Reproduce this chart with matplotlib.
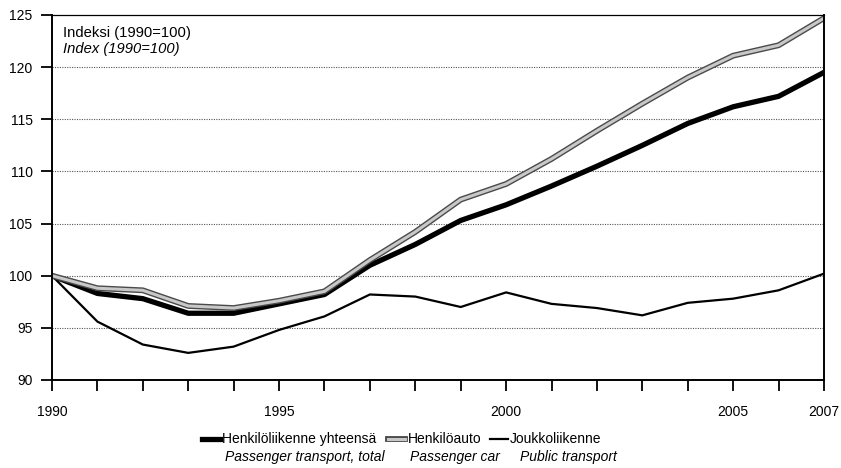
import matplotlib
matplotlib.use("Agg")
import matplotlib.pyplot as plt
import matplotlib.patheffects as pe

plt.rcParams['font.family'] = ['Liberation Sans', 'DejaVu Sans']

years = list(range(1990, 2008))
total = [100, 98.3, 97.8, 96.4, 96.4, 97.3, 98.2, 101.0, 103.0, 105.3,
         106.8, 108.6, 110.5, 112.5, 114.6, 116.2, 117.2, 119.5]
car = [100, 98.8, 98.6, 97.1, 96.9, 97.6, 98.5, 101.5, 104.2, 107.3,
       108.8, 111.2, 113.9, 116.5, 119.0, 121.1, 122.1, 124.7]
public = [100, 95.6, 93.4, 92.6, 93.2, 94.8, 96.1, 98.2, 98.0, 97.0,
          98.4, 97.3, 96.9, 96.2, 97.4, 97.8, 98.6, 100.2]
xlabels = {1990: '1990', 1995: '1995', 2000: '2000', 2005: '2005', 2007: '2007'}
yticks = [90, 95, 100, 105, 110, 115, 120, 125]
fi_labels = ['Henkilöliikenne yhteensä', 'Henkilöauto', 'Joukkoliikenne']
en_labels = ['Passenger transport, total', 'Passenger car', 'Public transport']

W, H = 841, 468
fig = plt.figure(figsize=(W / 100, H / 100), dpi=100)
ax = fig.add_axes([52 / W, 1 - 380 / H, (824 - 52) / W, (380 - 15) / H])

car_fx = [pe.Stroke(linewidth=4.2, foreground='#4a4a4a'), pe.Normal()]
styles = [dict(color='black', lw=3.8),
          dict(color='#c8c8c8', lw=2.2, path_effects=car_fx),
          dict(color='black', lw=1.6)]

ax.plot(years, public, **styles[2])
ax.plot(years, total, **styles[0])
ax.plot(years, car, **styles[1])

ax.set_xlim(1990, 2007)
ax.set_ylim(90, 125)
ax.set_xticks(years)
ax.set_xticklabels([xlabels.get(y, '') for y in years])
ax.set_yticks(yticks)
ax.tick_params(axis='both', labelsize=10, width=1.3, length=8, direction='out')
ax.tick_params(axis='x', pad=10)
ax.tick_params(axis='y', pad=6)
for y in yticks[1:-1]:
    ax.axhline(y, color='#555555', lw=0.8, ls=(0, (1, 1.2)), zorder=0)
for s in ['left', 'bottom', 'right']:
    ax.spines[s].set_linewidth(1.4)
ax.spines['top'].set_linewidth(0.9)

ax.text(0.0145, 0.95, 'Indeksi (1990=100)', transform=ax.transAxes,
        fontsize=10.6, va='center', ha='left')
ax.text(0.0145, 0.908, 'Index (1990=100)', transform=ax.transAxes,
        fontsize=10.6, va='center', ha='left', style='italic')

# legend, placed in figure pixels
def fx(px):
    return px / W

def fy(py):
    return 1 - py / H

ly, ly2 = 439, 457
handles = [(202, 220), (388, 405), (490, 508)]
fi_x = [222, 408, 510]
en_x = [225, 410, 520]
for (x0, x1), st in zip(handles, styles):
    fig.add_artist(plt.Line2D([fx(x0), fx(x1)], [fy(ly), fy(ly)], **st))
for x, t in zip(fi_x, fi_labels):
    fig.text(fx(x), fy(ly), t, fontsize=10, va='center', ha='left')
for x, t in zip(en_x, en_labels):
    fig.text(fx(x), fy(ly2), t, fontsize=10, va='center', ha='left', style='italic')

fig.savefig('out.png', dpi=100)
